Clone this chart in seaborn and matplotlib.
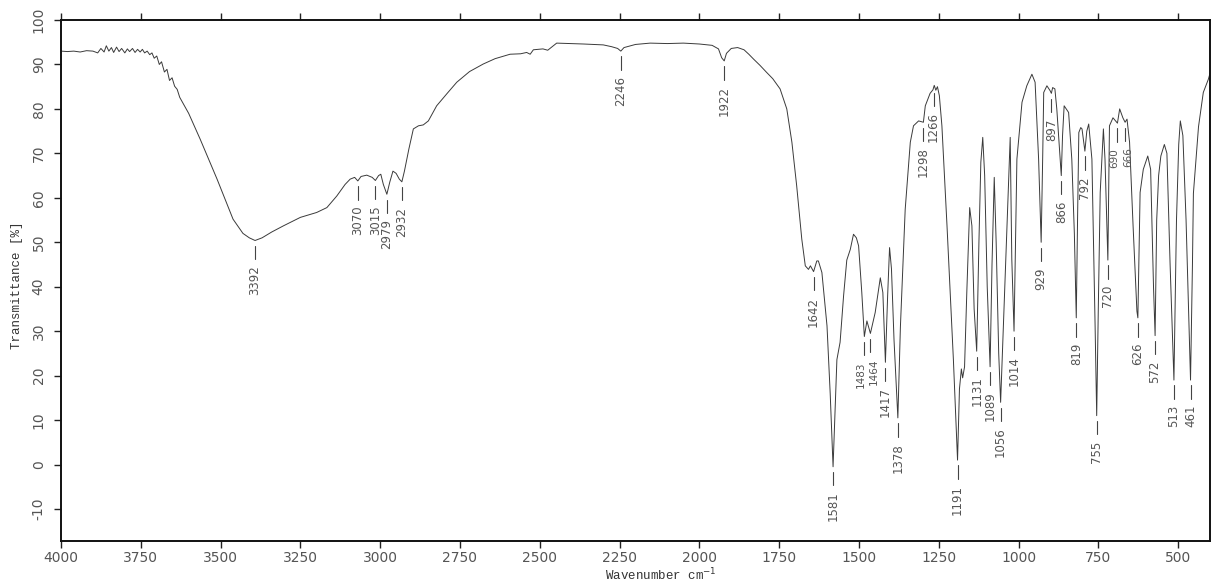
import numpy as np
import pandas as pd
import matplotlib
matplotlib.use("Agg")
import matplotlib.pyplot as plt
import seaborn as sns

# ---- spectrum vertices (wavenumber, transmittance %) ----
wavenumber = [
    4000, 3980, 3960, 3940, 3920, 3900, 3885, 3875, 3865, 3858, 3850, 3842, 3835, 3826,
    3818, 3810, 3800, 3792, 3785, 3776, 3768, 3760, 3752, 3745, 3738, 3730, 3722, 3715,
    3708, 3700, 3692, 3685, 3676, 3668, 3660, 3652, 3644, 3636, 3628, 3600, 3564, 3511,
    3461, 3430, 3410, 3392, 3370, 3340, 3303, 3250, 3199, 3167, 3136, 3110, 3094, 3080,
    3070, 3060, 3042, 3025, 3015, 3005, 2998, 2990, 2979, 2970, 2960, 2950, 2940, 2932,
    2924, 2910, 2896, 2880, 2865, 2849, 2823, 2790, 2760, 2720, 2677, 2640, 2593, 2560,
    2541, 2530, 2520, 2490, 2475, 2447, 2400, 2363, 2301, 2275, 2256, 2246, 2236, 2200,
    2154, 2100, 2050, 2000, 1960, 1940, 1930, 1922, 1915, 1900, 1880, 1860, 1845, 1830,
    1810, 1789, 1770, 1747, 1726, 1710, 1695, 1679, 1668, 1658, 1652, 1642, 1632, 1627,
    1616, 1600, 1590, 1581, 1569, 1559, 1548, 1538, 1527, 1517, 1508, 1501, 1491, 1483,
    1475, 1464, 1449, 1433, 1425, 1417, 1410, 1404, 1398, 1390, 1378, 1370, 1355, 1339,
    1329, 1313, 1298, 1292, 1277, 1268, 1264, 1259, 1254, 1248, 1240, 1224, 1204, 1191,
    1185, 1179, 1175, 1169, 1162, 1153, 1146, 1139, 1131, 1124, 1118, 1112, 1106, 1098,
    1089, 1083, 1076, 1070, 1062, 1056, 1026, 1021, 1014, 1008, 1005, 989, 974, 958,
    948, 937, 929, 924, 921, 911, 901, 897, 893, 886, 880, 866, 862, 857, 843, 833,
    825, 819, 815, 811, 805, 801, 792, 786, 780, 770, 760, 755, 750, 744, 734, 729,
    720, 715, 704, 690, 683, 673, 666, 660, 652, 641, 629, 626, 619, 609, 595, 586,
    577, 572, 567, 561, 554, 543, 535, 525, 513, 505, 498, 493, 485, 475, 461, 455,
    452, 436, 421, 405, 400,
]
transmittance = [
    93.0, 92.9, 93.0, 92.8, 93.1, 93.0, 92.6, 93.6, 92.8, 94.2, 93.0, 93.8, 92.7, 93.9,
    92.9, 93.6, 92.6, 93.5, 92.9, 93.6, 92.7, 93.4, 92.8, 93.4, 92.6, 93.0, 92.2, 92.6,
    91.4, 91.9, 90.0, 90.6, 88.3, 88.9, 86.4, 87.0, 85.1, 84.4, 82.6, 79.0, 73.2, 64.2,
    55.2, 52.0, 51.0, 50.4, 51.0, 52.3, 53.7, 55.6, 56.7, 57.8, 60.4, 63.0, 64.2, 64.6,
    63.8, 64.8, 65.1, 64.6, 63.9, 65.0, 65.3, 63.0, 60.8, 63.5, 66.0, 65.5, 64.2, 63.6,
    66.0, 71.0, 75.5, 76.2, 76.4, 77.3, 80.7, 83.5, 86.0, 88.4, 90.1, 91.3, 92.3, 92.4,
    92.7, 92.3, 93.3, 93.5, 93.2, 94.8, 94.7, 94.6, 94.4, 94.0, 93.6, 93.0, 93.8, 94.5,
    94.8, 94.7, 94.8, 94.6, 94.3, 93.5, 91.5, 90.8, 92.5, 93.6, 93.8, 93.3, 92.3, 91.2,
    89.8, 88.2, 86.8, 84.5, 80.0, 72.5, 62.7, 50.7, 44.7, 43.9, 44.7, 43.4, 45.8, 45.8,
    43.2, 31.2, 16.0, -0.5, 23.6, 27.5, 38.0, 46.0, 48.4, 51.8, 51.0, 49.2, 38.7, 28.8,
    32.3, 29.5, 34.2, 42.0, 38.7, 23.0, 38.0, 48.8, 44.0, 28.0, 10.5, 31.0, 57.4, 72.5,
    76.2, 77.3, 77.0, 80.7, 83.5, 84.3, 85.3, 84.2, 85.0, 83.0, 76.2, 53.7, 23.6, 1.0,
    17.0, 21.5, 19.5, 22.0, 38.7, 57.8, 53.7, 35.0, 25.5, 50.0, 68.0, 73.6, 65.0, 40.0,
    22.0, 45.0, 64.6, 50.0, 25.0, 14.0, 73.6, 46.2, 30.0, 55.0, 68.7, 81.5, 85.2, 87.8,
    86.0, 68.7, 50.0, 70.0, 83.7, 85.2, 84.1, 83.5, 84.8, 84.5, 80.0, 65.0, 74.0, 80.7,
    79.2, 68.7, 52.0, 33.0, 55.0, 74.7, 75.8, 75.5, 70.5, 75.0, 76.6, 68.7, 31.2, 11.0,
    35.0, 61.2, 75.5, 68.7, 46.0, 76.2, 78.0, 76.8, 80.0, 78.0, 77.0, 77.7, 72.5, 53.7,
    34.5, 33.0, 61.2, 66.4, 69.4, 66.4, 40.0, 29.0, 55.0, 65.0, 69.4, 72.0, 70.0, 45.0,
    19.0, 55.0, 72.0, 77.3, 74.0, 55.0, 19.0, 45.0, 61.0, 76.0, 83.7, 86.7, 88.0,
]

# ---- peak annotations ----
peak_labels = [3392, 3070, 3015, 2979, 2932, 2246, 1922, 1642, 1581, 1483, 1464, 1417,
               1378, 1298, 1266, 1191, 1131, 1089, 1056, 1014, 929, 897, 866, 819, 792,
               755, 720, 690, 666, 626, 572, 513, 461]

x_ticks = [4000, 3750, 3500, 3250, 3000, 2750, 2500, 2250, 2000, 1750, 1500, 1250, 1000, 750, 500]
y_ticks = [-10, 0, 10, 20, 30, 40, 50, 60, 70, 80, 90, 100]

# small horizontal nudges (cm-1) for crowded label pairs
label_nudge = {1483: 11, 1464: -11, 690: 9, 666: -9}
small_labels = {1483, 1464, 690, 666}

df = pd.DataFrame({"Wavenumber": wavenumber, "Transmittance": transmittance})

sns.set_theme(style="white")
plt.rcParams["font.family"] = ["DejaVu Sans"]

fig = plt.figure(figsize=(12.13, 5.81), dpi=100)
ax = fig.add_axes([61 / 1213, 1 - 541 / 581, (1210 - 61) / 1213, (541 - 20) / 581])

sns.lineplot(data=df, x="Wavenumber", y="Transmittance", sort=False, estimator=None,
             color="#3a3a3a", linewidth=0.7, ax=ax)

ax.set_xlim(4000, 400)
ax.set_ylim(-17.2, 100)
ax.set_xticks(x_ticks)
ax.set_xticklabels([str(v) for v in x_ticks], color="#555555", fontsize=10)
ax.set_yticks(y_ticks)
ax.set_yticklabels([str(v) for v in y_ticks], color="#555555", fontsize=10,
                   rotation=90, va="center")
ax.set_xlabel("")
ax.set_ylabel("")

for s in ax.spines.values():
    s.set_color("#111111")
    s.set_linewidth(1.4)

ax.tick_params(axis="x", which="major", direction="out", length=5, width=1.0,
               color="#222222", bottom=True, top=True, labelbottom=True, labeltop=False, pad=2)
ax.tick_params(axis="y", which="major", direction="out", length=5, width=1.0,
               color="#222222", left=True, right=False, pad=6)

# peak markers and labels
wn_asc = np.array(wavenumber[::-1], dtype=float)
tr_asc = np.array(transmittance[::-1], dtype=float)
for p in peak_labels:
    yv = float(np.interp(p, wn_asc, tr_asc))
    ax.plot([p, p], [yv - 1.2, yv - 4.2], color="#444444", linewidth=0.8)
    fs = 7.5 if p in small_labels else 8.5
    ax.text(p + label_nudge.get(p, 0), yv - 5.6, str(p), rotation=90, ha="center",
            va="top", fontsize=fs, color="#555555")

fig.text(17 / 1213, 1 - 285 / 581, "Transmittance [%]", rotation=90, ha="center",
         va="center", fontsize=9, family=["Liberation Mono", "DejaVu Sans Mono"],
         color="#333333")
fig.text(661 / 1213, 1 - 575 / 581, "Wavenumber cm$^{-1}$", ha="center", va="center",
         fontsize=9, family=["Liberation Mono", "DejaVu Sans Mono"], color="#333333")

fig.savefig("out.png", dpi=100, facecolor="white")
